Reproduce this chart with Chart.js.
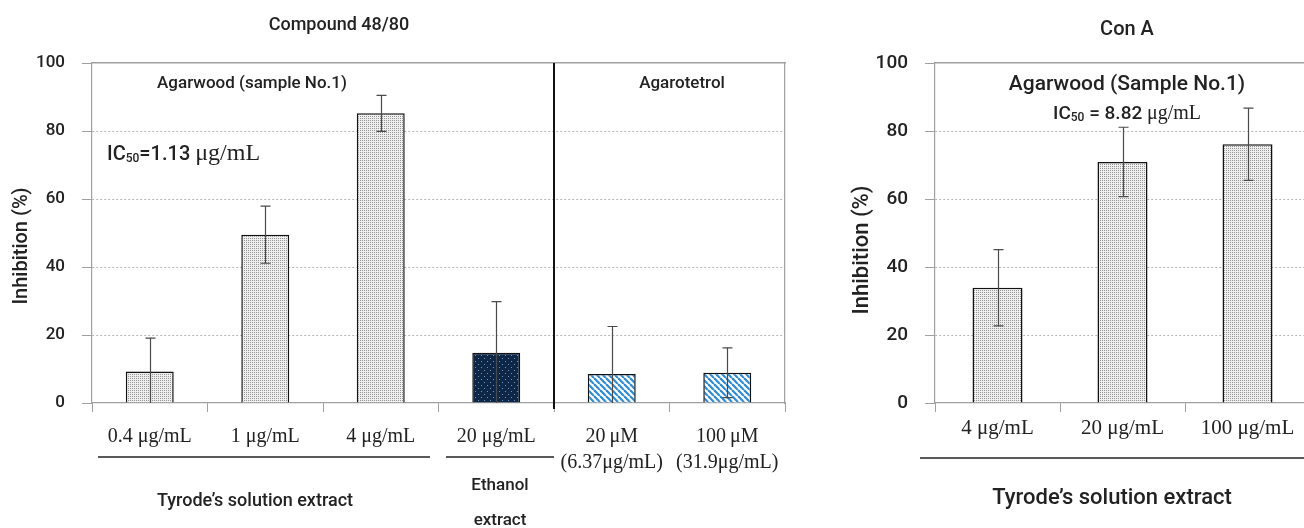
<!DOCTYPE html>
<html>
<head>
<meta charset="utf-8">
<script src="https://cdn.jsdelivr.net/npm/chart.js@4.4.0/dist/chart.umd.min.js"></script>
<style>
  html, body { margin: 0; padding: 0; background: #fff; overflow: hidden; width: 1304px; height: 528px; position: relative; }
  #left { position: absolute; left: 0; top: 0; width: 800px; height: 528px; }
  #right { position: absolute; left: 800px; top: 0; width: 520px; height: 528px; }
</style>
</head>
<body>
<div id="left"><canvas id="c1"></canvas></div>
<div id="right"><canvas id="c2"></canvas></div>
<script>
// Compound 48/80 panel
const leftLabels = ["0.4 μg/mL", "1 μg/mL", "4 μg/mL", "20 μg/mL", ["20\u2009μM", "(6.37μg/mL)"], ["100\u2009μM", "(31.9μg/mL)"]];
const leftValues = [9.3, 49.5, 85.2, 14.8, 8.5, 8.9];
const leftErrors = [9.8, 8.4, 5.3, 15.0, 14.0, 7.3];

// Con A panel
const rightLabels = ["4 μg/mL", "20 μg/mL", "100 μg/mL"];
const rightValues = [33.9, 70.9, 76.1];
const rightErrors = [11.2, 10.2, 10.6];

const yTicks = [0, 20, 40, 60, 80, 100];

const SANS = "Roboto, 'DejaVu Sans', sans-serif";
const SERIF = "'Liberation Serif', 'DejaVu Serif', serif";

function makeTile(size, draw) {
  const c = document.createElement("canvas");
  c.width = size; c.height = size;
  draw(c.getContext("2d"), size);
  return document.createElement("canvas").getContext("2d").createPattern(c, "repeat");
}

const greyDots = makeTile(2, (g) => {
  g.fillStyle = "#efefef"; g.fillRect(0, 0, 2, 2);
  g.fillStyle = "#959595"; g.fillRect(0, 0, 1, 1);
});
const navyDots = makeTile(6, (g) => {
  g.fillStyle = "#0f2747"; g.fillRect(0, 0, 6, 6);
  g.fillStyle = "#6f93c4"; g.fillRect(1, 1, 1, 1); g.fillRect(4, 4, 1, 1);
});
const blueHatch = makeTile(6, (g, s) => {
  g.fillStyle = "#fff"; g.fillRect(0, 0, s, s);
  g.strokeStyle = "#2f8ad0"; g.lineWidth = 2.2;
  [-s, 0, s].forEach(x0 => { g.beginPath(); g.moveTo(x0, 0); g.lineTo(x0 + s, s); g.stroke(); });
});

const errorBars = {
  id: "errorBars",
  afterDatasetsDraw(chart, args, opts) {
    const ctx = chart.ctx, y = chart.scales.y;
    const vals = chart.data.datasets[0].data;
    ctx.save();
    ctx.strokeStyle = opts.color;
    ctx.lineWidth = opts.width;
    chart.getDatasetMeta(0).data.forEach((bar, i) => {
      const hi = y.getPixelForValue(vals[i] + opts.errors[i]);
      const lo = y.getPixelForValue(Math.max(0, vals[i] - opts.errors[i]));
      const x = Math.round(bar.x) + 0.5, c = opts.cap;
      ctx.beginPath();
      ctx.moveTo(x, hi); ctx.lineTo(x, lo);
      ctx.moveTo(x - c, hi); ctx.lineTo(x + c, hi);
      if (vals[i] - opts.errors[i] > 0) { ctx.moveTo(x - c, lo); ctx.lineTo(x + c, lo); }
      ctx.stroke();
    });
    ctx.restore();
  }
};

function drawRuns(ctx, runs, x, y, align) {
  let total = 0;
  runs.forEach(r => { ctx.font = r.font; total += ctx.measureText(r.t).width; });
  let cx = align === "center" ? x - total / 2 : x;
  ctx.textAlign = "left";
  ctx.textBaseline = "alphabetic";
  runs.forEach(r => {
    ctx.font = r.font;
    ctx.fillText(r.t, cx, y + (r.dy || 0));
    cx += ctx.measureText(r.t).width;
  });
}

const notes = {
  id: "notes",
  afterDraw(chart, args, opts) {
    const ctx = chart.ctx;
    ctx.save();
    ctx.fillStyle = "#222";
    opts.texts.forEach(t => {
      if (t.rotate) {
        ctx.save();
        ctx.translate(t.x, t.y);
        ctx.rotate(-Math.PI / 2);
        ctx.font = t.font; ctx.textAlign = "center"; ctx.textBaseline = "middle";
        ctx.fillText(t.t, 0, 0);
        ctx.restore();
      } else {
        drawRuns(ctx, t.runs || [{ t: t.t, font: t.font }], t.x, t.y, t.align || "center");
      }
    });
    ctx.strokeStyle = "#222";
    ctx.lineWidth = 1.5;
    opts.lines.forEach(l => {
      ctx.beginPath(); ctx.moveTo(l[0], l[1]); ctx.lineTo(l[2], l[3]); ctx.stroke();
    });
    if (opts.divider != null) {
      const x = chart.scales.x, y = chart.scales.y;
      const px = (x.getPixelForValue(opts.divider - 1) + x.getPixelForValue(opts.divider)) / 2;
      ctx.lineWidth = 2;
      ctx.strokeStyle = "#111";
      ctx.beginPath();
      ctx.moveTo(px, y.getPixelForValue(100));
      ctx.lineTo(px, y.getPixelForValue(0) + 6);
      ctx.stroke();
    }
    ctx.restore();
  }
};

function baseOptions(cfg) {
  return {
    responsive: true,
    maintainAspectRatio: false,
    animation: false,
    layout: { padding: { top: 63, right: cfg.padRight, left: 0, bottom: 0 } },
    plugins: {
      legend: { display: false },
      tooltip: { enabled: false },
      errorBars: { errors: cfg.errors, color: "#4a4a4a", width: 1.2, cap: 5 },
      notes: { texts: cfg.texts, lines: cfg.lines, divider: cfg.divider }
    },
    scales: {
      x: {
        grid: { offset: true, drawOnChartArea: false, tickLength: 9, tickColor: "#a0a0a0" },
        border: { color: "#a0a0a0", width: 1.2 },
        ticks: {
          color: "#222", padding: cfg.xPad, maxRotation: 0, autoSkip: false,
          font: { family: SERIF, size: cfg.xFont, lineHeight: 1.3 }
        },
        afterFit(s) { s.height = 125; }
      },
      xTop: {
        position: "top",
        grid: { display: false, drawTicks: false },
        ticks: { display: false },
        border: { color: "#a0a0a0", width: 1.5 },
        afterFit(s) { s.height = 0; }
      },
      y: {
        min: 0, max: 100,
        afterBuildTicks(s) { s.ticks = yTicks.map(v => ({ value: v })); },
        grid: {
          color: c => (c.tick && (c.tick.value === 0 || c.tick.value === 100)) ? "rgba(0,0,0,0)" : "#b4b4b4",
          tickLength: 10, tickColor: "#a0a0a0", lineWidth: 1
        },
        border: { color: "#a0a0a0", width: 1.2, dash: [2, 2] },
        ticks: { color: "#222", padding: 17, font: { family: SANS, size: cfg.yFont, weight: "500" } },
        afterFit(s) { s.width = cfg.yWidth; }
      }
    }
  };
}

new Chart(document.getElementById("c1"), {
  type: "bar",
  data: {
    labels: leftLabels,
    datasets: [{
      data: leftValues,
      backgroundColor: [greyDots, greyDots, greyDots, navyDots, blueHatch, blueHatch],
      borderColor: "#111",
      borderWidth: 1.5,
      barPercentage: 0.415,
      categoryPercentage: 1
    }]
  },
  options: (() => {
    const o = baseOptions({
      errors: leftErrors, padRight: 15, yWidth: 92, yFont: 17, xFont: 20, xPad: 12, divider: 4,
      texts: [
        { t: "Compound 48/80", font: "500 18px " + SANS, x: 339, y: 30 },
        { t: "Agarwood (sample No.1)", font: "500 17px " + SANS, x: 252, y: 88 },
        { t: "Agarotetrol", font: "500 17px " + SANS, x: 682, y: 88 },
        { runs: [
            { t: "IC", font: "500 20px " + SANS },
            { t: "50", font: "500 12px " + SANS, dy: 2 },
            { t: "=1.13 ", font: "500 20px " + SANS },
            { t: "μg/mL", font: "24px " + SERIF }
          ], x: 107, y: 160, align: "left" },
        { t: "Tyrode\u2019s solution extract", font: "500 18px " + SANS, x: 255, y: 506 },
        { t: "Ethanol", font: "500 17px " + SANS, x: 500, y: 490 },
        { t: "extract", font: "500 17px " + SANS, x: 500, y: 525 },
        { t: "Inhibition (%)", font: "500 20px " + SANS, x: 22, y: 246, rotate: true }
      ],
      lines: [[98, 457, 430, 457], [446, 457, 554, 457]]
    });
    o.scales.yRight = {
      position: "right",
      grid: { display: false, drawTicks: false },
      ticks: { display: false },
      border: { color: "#a0a0a0", width: 1.2 },
      afterFit(s) { s.width = 0; }
    };
    return o;
  })(),
  plugins: [errorBars, notes]
});

new Chart(document.getElementById("c2"), {
  type: "bar",
  data: {
    labels: rightLabels,
    datasets: [{
      data: rightValues,
      backgroundColor: greyDots,
      borderColor: "#111",
      borderWidth: 1.5,
      barPercentage: 0.4,
      categoryPercentage: 1
    }]
  },
  options: baseOptions({
    errors: rightErrors, padRight: 10, yWidth: 135, yFont: 19, xFont: 21, xPad: 3, divider: null,
    texts: [
      { t: "Con A", font: "500 20px " + SANS, x: 327, y: 35 },
      { t: "Agarwood (Sample No.1)", font: "500 21px " + SANS, x: 327, y: 90 },
      { runs: [
          { t: "IC", font: "500 19px " + SANS },
          { t: "50", font: "500 12px " + SANS, dy: 2 },
          { t: " = 8.82 ", font: "500 19px " + SANS },
          { t: "μg/mL", font: "20px " + SERIF }
        ], x: 327, y: 119, align: "center" },
      { t: "Tyrode\u2019s solution extract", font: "500 22px " + SANS, x: 312, y: 504 },
      { t: "Inhibition (%)", font: "500 22px " + SANS, x: 62, y: 250, rotate: true }
    ],
    lines: [[120, 458, 520, 458]]
  }),
  plugins: [errorBars, notes]
});
</script>
</body>
</html>
